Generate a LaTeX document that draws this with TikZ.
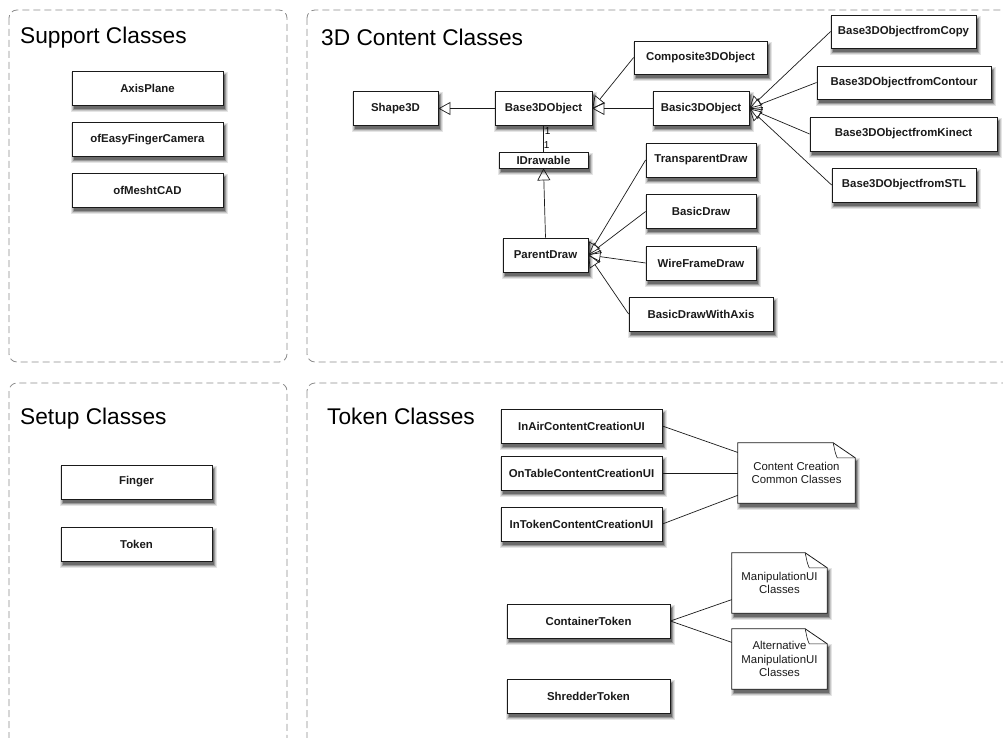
\documentclass[tikz,border=0pt]{standalone}
\usepackage{fontspec}
\setmainfont{Liberation Sans}
\usepackage{tikz}
\usetikzlibrary{positioning,arrows.meta,calc,backgrounds}
\definecolor{frame}{HTML}{8C8C8C}
\definecolor{ink}{HTML}{1A1A1A}

\begin{document}
\begin{tikzpicture}[x=1pt,y=-1pt,
  cls/.style={draw=ink,fill=white,line width=.8pt,inner sep=0pt,text=ink,
    font=\fontsize{11.4}{13}\selectfont\bfseries},
  nt/.style={minimum width=95pt,minimum height=60pt,inner sep=0pt,align=center,text=ink,
    font=\fontsize{11.4}{13.3}\selectfont},
  ntshape/.style={draw=ink,fill=white,line width=.8pt},
  grp/.style={draw=frame,line width=.8pt,dash pattern=on 7pt off 4pt,rounded corners=8pt},
  ttl/.style={anchor=base west,inner sep=0pt,font=\fontsize{22.7}{26}\selectfont},
  isa/.style={draw=ink,line width=.7pt,-{Triangle[open,length=12pt,width=13pt]}},
  lnk/.style={draw=ink,line width=.7pt},
  mult/.style={font=\fontsize{10}{10}\selectfont,inner sep=1pt}]

\useasboundingbox (0,0) rectangle (1003,738);

% package frames
\draw[grp] (9,10) rectangle (287,362);
\draw[grp] (307,10) rectangle (1015,362);
\draw[grp] (9,383) rectangle (287,750);
\draw[grp] (307,383) rectangle (1015,750);
\node[ttl] (tsupport) at (20,44) {Support Classes};
\node[ttl] (tcontent) at (321,46) {3D Content Classes};
\node[ttl] (tsetup) at (20,424) {Setup Classes};
\node[ttl] (ttoken) at (327,424) {Token Classes};

% classes
\foreach \n/\x/\y/\w/\h/\t in {
  axis/147.5/88/151/34/AxisPlane, camera/147.5/139.5/151/34/ofEasyFingerCamera,
  mesh/147.5/190.5/151/34/ofMeshtCAD,
  finger/136.5/482/151/34/Finger, token/136.5/544/151/34/Token,
  shape/395.5/108.5/85/34/Shape3D, base/543.5/108.5/97/34/Base3DObject,
  comp/700.5/57.5/133/33/Composite3DObject, basic/701/108.5/96/34/Basic3DObject,
  idraw/543.5/160/89/16/IDrawable, parent/545.5/255/85/34/ParentDraw,
  transp/701/160/110/34/TransparentDraw, bdraw/701/211.5/110/34/BasicDraw,
  wire/701/263/110/34/WireFrameDraw, axisdraw/701/314/144/34/BasicDrawWithAxis,
  copy/903.5/31.5/145/33/Base3DObjectfromCopy, contour/904/82.5/174/33/Base3DObjectfromContour,
  kinect/903.5/134/187/34/Base3DObjectfromKinect, stl/904/185/144/34/Base3DObjectfromSTL,
  inair/581.5/426/161/34/InAirContentCreationUI, ontable/581.5/473/161/34/OnTableContentCreationUI,
  intoken/581.5/524/161/34/InTokenContentCreationUI,
  cont/588.5/621/163/34/ContainerToken, shred/588.5/696/163/34/ShredderToken}
  {\node[cls,minimum width=\w pt,minimum height=\h pt] (\n) at (\x,\y) {\t};}

% notes
\node[nt,minimum width=117pt] (ccc) at (796.5,473) {Content Creation\\Common Classes};
\node[nt] (mui) at (779.5,583) {ManipulationUI\\Classes};
\node[nt] (amui) at (779.5,659) {Alternative\\ManipulationUI\\Classes};

% soft shadows, then the note outlines
\begin{scope}[on background layer]
  \foreach \n in {axis,camera,mesh,finger,token,shape,base,comp,basic,idraw,parent,
      transp,bdraw,wire,axisdraw,copy,contour,kinect,stl,inair,ontable,intoken,cont,shred}
    \foreach \e/\c in {3/10,2/22,1/40,0/58}
      \fill[black!\c] ([xshift=2.5pt-\e pt,yshift=-3.5pt-\e pt]\n.south west)
        rectangle ([xshift=1.5pt+\e pt,yshift=-4pt+\e pt]\n.north east);
  \foreach \n in {ccc,mui,amui}{
    \foreach \e/\c in {3/10,2/22,1/40,0/58}
      \fill[black!\c] ([xshift=2.5pt-\e pt,yshift=-3.5pt-\e pt]\n.south west)
        rectangle ([xshift=1.5pt+\e pt,yshift=-18pt+\e pt]\n.north east);
    \path[ntshape] (\n.north west) -- ([xshift=-22pt]\n.north east) -- ([yshift=-15pt]\n.north east)
      -- (\n.south east) -- (\n.south west) -- cycle;
    \draw[lnk,line width=.6pt] ([xshift=-22pt]\n.north east) .. controls ([xshift=-20pt,yshift=-10pt]\n.north east)
      .. ([xshift=-18pt,yshift=-15pt]\n.north east) -- ([yshift=-15pt]\n.north east);
  }
\end{scope}

% inheritance
\draw[isa] (base.west) -- (shape.east);
\foreach \k in {comp,basic} \draw[isa] (\k.west) -- (base.east);
\foreach \k in {copy,contour,kinect,stl} \draw[isa] (\k.west) -- (basic.east);
\foreach \k in {transp,bdraw,wire,axisdraw} \draw[isa] (\k.west) -- (parent.east);
\draw[isa] (parent.north) -- (idraw.south);
\draw[lnk] (base.south) -- node[mult,pos=.2,right]{1} node[mult,pos=.75,right=-1pt]{1} (idraw.north);

% associations
\foreach \k in {inair,ontable,intoken} \draw[lnk] (\k.east) -- (ccc);
\foreach \k in {mui,amui} \draw[lnk] (cont.east) -- (\k);
\end{tikzpicture}
\end{document}
